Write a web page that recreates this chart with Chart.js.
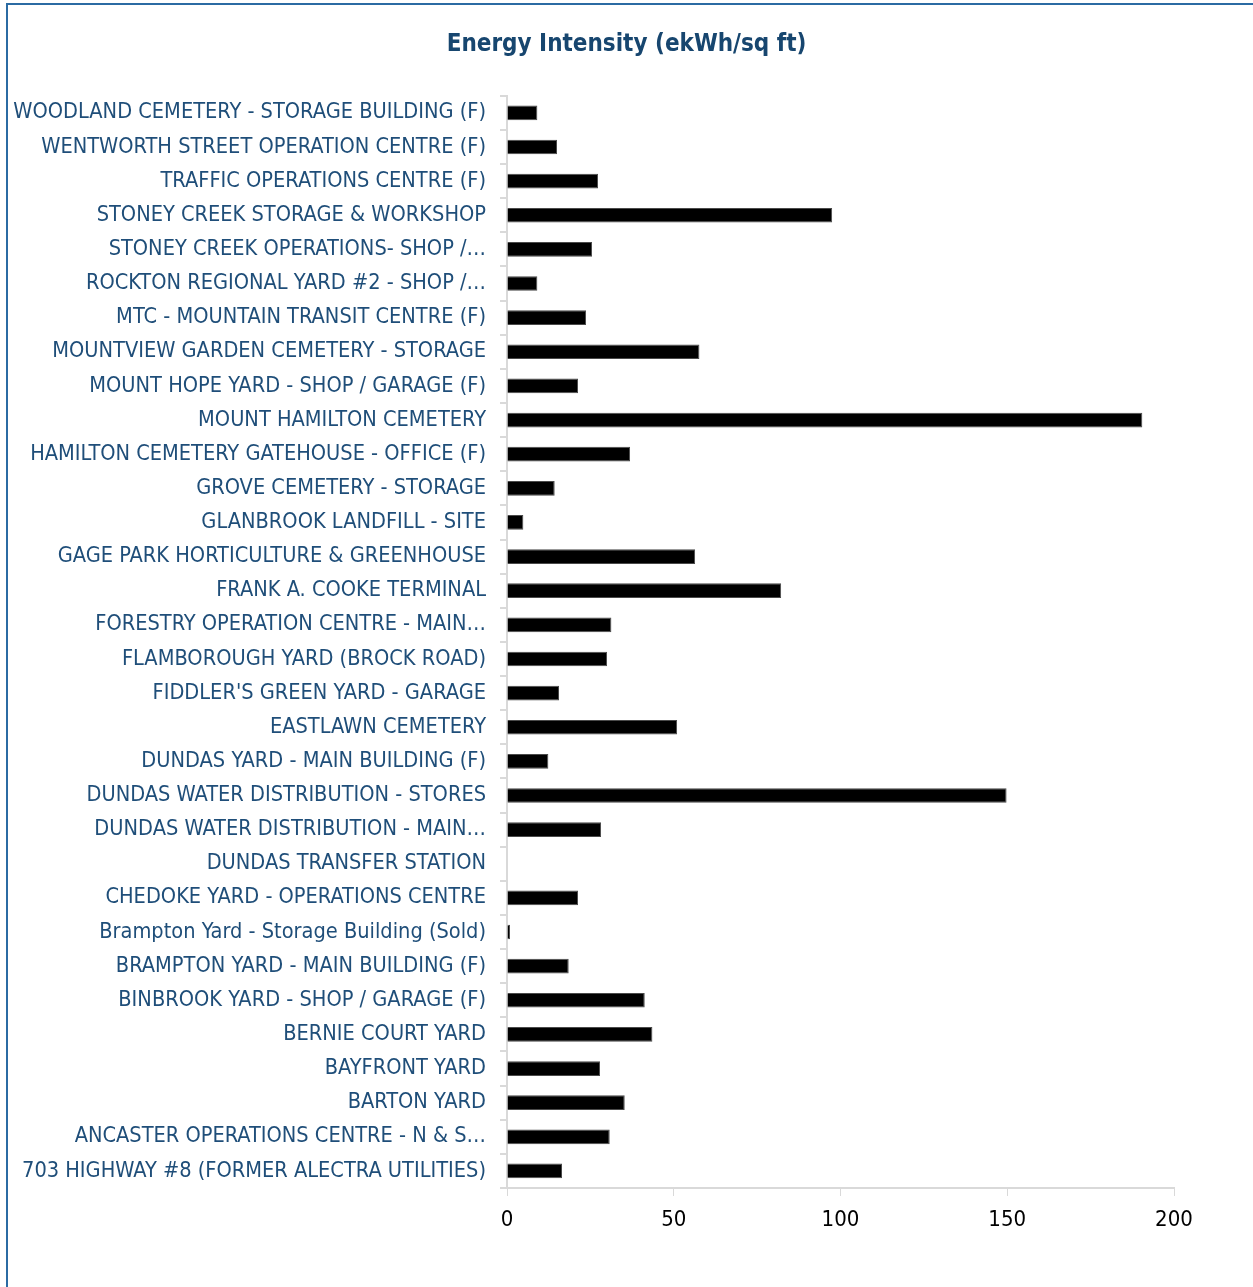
<!DOCTYPE html>
<html>
<head>
<meta charset="utf-8">
<script src="https://cdn.jsdelivr.net/npm/chart.js@4/dist/chart.umd.min.js"></script>
<style>
  body { margin: 0; background: #fff; }
  #frame { position: absolute; left: 6px; top: 3px; width: 1260px; height: 1300px;
           border-top: 2px solid #2b6ba3; border-left: 2px solid #2b6ba3; }
  #myChart { position: absolute; left: 0; top: 0; }
</style>
</head>
<body>
<div id="frame"></div>
<canvas id="myChart" width="1253" height="1287"></canvas>
<script>
// sites, top to bottom as in the picture
const sites = [
  'WOODLAND CEMETERY - STORAGE BUILDING (F)',
  'WENTWORTH STREET OPERATION CENTRE (F)',
  'TRAFFIC OPERATIONS CENTRE (F)',
  'STONEY CREEK STORAGE & WORKSHOP',
  'STONEY CREEK OPERATIONS- SHOP /…',
  'ROCKTON REGIONAL YARD #2 - SHOP /…',
  'MTC - MOUNTAIN TRANSIT CENTRE (F)',
  'MOUNTVIEW GARDEN CEMETERY - STORAGE',
  'MOUNT HOPE YARD - SHOP / GARAGE (F)',
  'MOUNT HAMILTON CEMETERY',
  'HAMILTON CEMETERY GATEHOUSE - OFFICE (F)',
  'GROVE CEMETERY - STORAGE',
  'GLANBROOK LANDFILL - SITE',
  'GAGE PARK HORTICULTURE & GREENHOUSE',
  'FRANK A. COOKE TERMINAL',
  'FORESTRY OPERATION CENTRE - MAIN…',
  'FLAMBOROUGH YARD (BROCK ROAD)',
  "FIDDLER'S GREEN YARD - GARAGE",
  'EASTLAWN CEMETERY',
  'DUNDAS YARD - MAIN BUILDING (F)',
  'DUNDAS WATER DISTRIBUTION - STORES',
  'DUNDAS WATER DISTRIBUTION - MAIN…',
  'DUNDAS TRANSFER STATION',
  'CHEDOKE YARD - OPERATIONS CENTRE',
  'Brampton Yard - Storage Building (Sold)',
  'BRAMPTON YARD - MAIN BUILDING (F)',
  'BINBROOK YARD - SHOP / GARAGE (F)',
  'BERNIE COURT YARD',
  'BAYFRONT YARD',
  'BARTON YARD',
  'ANCASTER OPERATIONS CENTRE - N & S…',
  '703 HIGHWAY #8 (FORMER ALECTRA UTILITIES)'
];

// ekWh per sq ft
const intensity = [
  9.1, 15.0, 27.3, 97.5, 25.5, 9.1, 23.7, 57.7,
  21.3, 190.5, 36.9, 14.3, 4.9, 56.4, 82.2, 31.3,
  30.0, 15.6, 51.0, 12.4, 149.8, 28.2, 0, 21.3,
  0.9, 18.5, 41.3, 43.6, 27.9, 35.3, 30.8, 16.5
];

const xTicks = [0, 50, 100, 150, 200];

var fontFam = '"Liberation Sans Narrow", "Arial Narrow", "DejaVu Sans Condensed", sans-serif';
var axisGrey = '#d9d9d9';

var ctx = document.getElementById('myChart').getContext('2d');

var chart = new Chart(ctx, {
  type: 'bar',
  data: {
    labels: sites,
    datasets: [{
      data: intensity,
      backgroundColor: '#000000',
      borderColor: '#4a4a4a',
      borderWidth: 1,
      barPercentage: 0.43,
      categoryPercentage: 1
    }]
  },
  options: {
    indexAxis: 'y',
    responsive: false,
    animation: false,
    layout: { padding: { left: 0, right: 0, top: 20, bottom: 39 } },
    plugins: {
      legend: { display: false },
      tooltip: { enabled: false },
      title: {
        display: true,
        text: 'Energy Intensity (ekWh/sq ft)',
        color: '#17466f',
        font: { family: fontFam, size: 24, weight: 'bold' },
        padding: { top: 10, bottom: 37 }
      }
    },
    scales: {
      x: {
        min: 0,
        max: 200,
        afterBuildTicks: function(scale) {
          scale.ticks = xTicks.map(v => ({ value: v }));
        },
        afterFit: function(scale) { scale.height = 60; },
        grid: { drawOnChartArea: false, drawTicks: true, tickLength: 8, color: axisGrey },
        border: { display: true, color: axisGrey, width: 2 },
        ticks: { color: '#000', padding: 11, font: { family: fontFam, size: 22 } }
      },
      y: {
        afterFit: function(scale) { scale.width = 507; },
        grid: { drawOnChartArea: false, drawTicks: true, tickLength: 7, offset: true, color: axisGrey, lineWidth: 2 },
        border: { display: true, color: axisGrey, width: 2 },
        ticks: { color: '#1f4e79', padding: 14, autoSkip: false, font: { family: fontFam, size: 21.6 } }
      },
      // empty right-hand spacer so the plot ends at 200 where the original does
      spacer: {
        type: 'linear',
        position: 'right',
        afterFit: function(scale) { scale.width = 79; },
        grid: { display: false },
        border: { display: false },
        ticks: { display: false }
      }
    }
  }
});
</script>
</body>
</html>
